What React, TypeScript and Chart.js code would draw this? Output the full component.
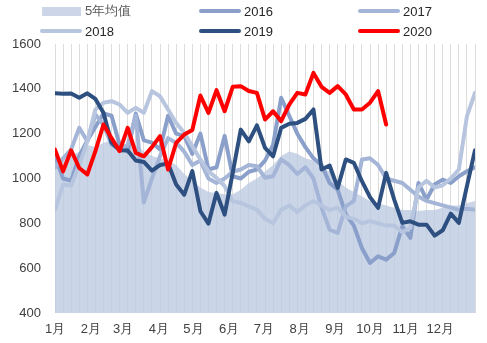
import React, { useEffect, useRef } from "react";
import { Chart, registerables } from "chart.js";

Chart.register(...registerables);

const FONT = '"Liberation Sans", Arial, sans-serif';

const weekIdx = [0,1,2,3,4,5,6,7,8,9,10,11,12,13,14,15,16,17,18,19,20,21,22,23,24,25,26,27,28,29,30,31,32,33,34,35,36,37,38,39,40,41,42,43,44,45,46,47,48,49,50,51,52];
const monthLabels = ["1月","2月","3月","4月","5月","6月","7月","8月","9月","10月","11月","12月"];
const monthTicks = [0, 4.43, 8.43, 12.86, 17.14, 21.57, 25.86, 30.29, 34.71, 39, 43.43, 47.71];
const yTicks = [400, 600, 800, 1000, 1200, 1400, 1600];

const avg5 = [1050,1080,1100,1120,1150,1140,1160,1170,1150,1140,1150,1120,1100,1090,1080,1060,1020,990,960,940,935,930,930,950,980,1000,1030,1060,1100,1120,1110,1090,1080,1050,1030,990,960,940,920,900,890,880,870,860,860,855,860,860,870,880,880,890,900];
const s2016 = [1100,1000,990,1100,1170,1230,1290,1280,1150,1120,1290,1170,1160,1130,1280,1200,1190,1110,1200,1040,1050,1190,1010,1000,1030,1040,1080,1150,1360,1280,1200,1140,1090,1060,980,950,840,790,690,623,653,638,668,787,735,980,906,973,995,980,1010,1032,1050];
const s2017 = [1050,1090,1130,1226,1166,1285,1240,1150,1130,1150,1280,893,1000,1100,1180,1160,1120,1060,1080,1000,980,1000,1030,1040,1060,1055,1003,1010,1085,1060,1020,1050,1000,870,772,757,876,900,1085,1090,1060,1000,990,980,950,920,900,890,880,870,860,865,860];
const s2018 = [861,973,969,1060,1166,1308,1338,1345,1330,1293,1315,1293,1390,1367,1308,1248,1204,1144,1085,1032,1003,966,899,891,876,861,820,800,860,880,850,880,900,880,860,870,830,820,800,810,800,790,790,760,780,960,990,960,970,1000,1040,1278,1382];
const s2019 = [1380,1378,1379,1360,1380,1355,1293,1159,1126,1125,1080,1074,1035,1060,1067,973,928,1033,854,799,936,839,1025,1218,1166,1237,1137,1099,1226,1244,1248,1266,1308,1040,1058,958,1085,1070,988,917,869,1025,906,802,809,794,794,745,769,843,802,966,1126];
const s2020 = [1129,1032,1126,1047,1018,1122,1241,1181,1122,1226,1114,1099,1140,1189,1040,1159,1196,1216,1370,1293,1394,1300,1409,1412,1390,1382,1263,1300,1256,1330,1382,1375,1471,1409,1382,1412,1375,1308,1308,1338,1390,1241];

const COLORS = {
  avg: "#cdd6e8",
  avgFill: "rgba(190,202,226,0.8)",
  y2016: "#8aa0cb",
  y2017: "#a4b5d7",
  y2018: "#b7c5df",
  y2019: "#2d5080",
  y2020: "#ff0000",
};

const toPts = (vals: number[]) => vals.map((v, i) => ({ x: weekIdx[i], y: v }));

const legendItems = [
  { label: "5年均值", color: COLORS.avg, box: true, left: 42, top: 5 },
  { label: "2016", color: COLORS.y2016, box: false, left: 199, top: 5 },
  { label: "2017", color: COLORS.y2017, box: false, left: 358, top: 5 },
  { label: "2018", color: COLORS.y2018, box: false, left: 40, top: 25 },
  { label: "2019", color: COLORS.y2019, box: false, left: 199, top: 25 },
  { label: "2020", color: COLORS.y2020, box: false, left: 358, top: 25 },
];

function Legend() {
  return (
    <>
      {legendItems.map((it) => (
        <div
          key={it.label}
          style={{
            position: "absolute",
            left: it.left,
            top: it.top,
            height: 12,
            display: "flex",
            alignItems: "center",
            fontFamily: FONT,
            fontSize: 13,
            color: "#262626",
            whiteSpace: "nowrap",
          }}
        >
          {it.box ? (
            <span style={{ display: "inline-block", width: 39, height: 9, background: it.color, marginRight: 4 }} />
          ) : (
            <span style={{ display: "inline-block", width: 42, height: 4, borderRadius: 2, background: it.color, marginRight: 3 }} />
          )}
          <span style={{ color: it.box ? "#595959" : "#262626" }}>{it.label}</span>
        </div>
      ))}
    </>
  );
}

export default function App() {
  const ref = useRef<HTMLCanvasElement | null>(null);

  useEffect(() => {
    if (!ref.current) return;
    const lineDs = (label: string, data: number[], color: string, order: number) => ({
      label,
      data: toPts(data),
      borderColor: color,
      backgroundColor: color,
      borderWidth: 4,
      pointRadius: 0,
      tension: 0,
      fill: false,
      order,
      borderJoinStyle: "round" as const,
      borderCapStyle: "round" as const,
    });
    const chart = new Chart(ref.current, {
      type: "line",
      data: {
        datasets: [
          lineDs("2020", s2020, COLORS.y2020, 0),
          lineDs("2019", s2019, COLORS.y2019, 1),
          lineDs("2018", s2018, COLORS.y2018, 2),
          lineDs("2017", s2017, COLORS.y2017, 3),
          lineDs("2016", s2016, COLORS.y2016, 4),
          {
            label: "5年均值",
            data: toPts(avg5),
            borderColor: "rgba(0,0,0,0)",
            backgroundColor: COLORS.avgFill,
            borderWidth: 0,
            pointRadius: 0,
            tension: 0,
            fill: "start",
            order: 5,
          },
        ],
      },
      options: {
        responsive: false,
        animation: false,
        maintainAspectRatio: false,
        layout: { padding: { top: 44, right: 12, left: 0, bottom: 0 } },
        plugins: { legend: { display: false }, tooltip: { enabled: false } },
        scales: {
          x: {
            type: "linear",
            min: 0,
            max: 52,
            position: "bottom",
            grid: { display: false, drawTicks: false },
            border: { display: false },
            afterBuildTicks: (s: any) => {
              s.ticks = monthTicks.map((v) => ({ value: v }));
            },
            afterFit: (s: any) => {
              s.height = 30;
            },
            ticks: {
              autoSkip: false,
              maxRotation: 0,
              minRotation: 0,
              padding: 9,
              color: "#404040",
              font: { size: 13, family: FONT },
              callback: (_v: any, i: number) => monthLabels[i],
            },
          },
          xg: {
            type: "linear",
            min: 0,
            max: 52,
            position: "bottom",
            grid: { color: "#dcdcdc", lineWidth: 1, drawTicks: false },
            border: { display: false },
            afterBuildTicks: (s: any) => {
              s.ticks = weekIdx.map((v) => ({ value: v }));
            },
            afterFit: (s: any) => {
              s.height = 0;
            },
            ticks: { display: false },
          },
          y: {
            min: 400,
            max: 1600,
            afterBuildTicks: (s: any) => {
              s.ticks = yTicks.map((v) => ({ value: v }));
            },
            afterFit: (s: any) => {
              s.width = 55;
            },
            grid: { display: false, drawTicks: false },
            border: { display: false },
            ticks: {
              padding: 14,
              color: "#404040",
              font: { size: 13, family: FONT },
              callback: (v: any) => String(v),
            },
          },
        },
      },
    } as any);
    return () => chart.destroy();
  }, []);

  return (
    <div style={{ position: "fixed", left: 0, top: 0, width: 487, height: 343, background: "#fff", overflow: "hidden" }}>
      <canvas ref={ref} width={487} height={343} style={{ position: "absolute", left: 0, top: 0, width: 487, height: 343 }} />
      <Legend />
    </div>
  );
}
